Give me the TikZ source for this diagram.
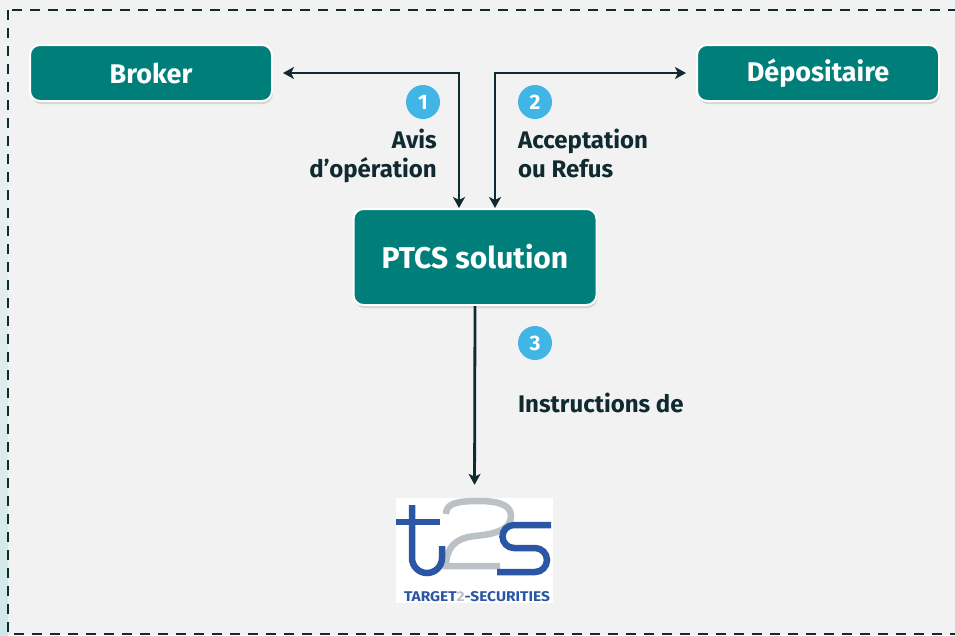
\documentclass[tikz,border=0pt]{standalone}
\usepackage{fontspec}
\setmainfont{Fira Sans}
\usepackage{tikz}
\usepackage{graphicx}
\usetikzlibrary{arrows.meta,shadows,positioning}
\definecolor{bg}{HTML}{F2F2F2}
\definecolor{tealbox}{HTML}{007F7A}
\definecolor{ink}{HTML}{0F2A30}
\definecolor{numblue}{HTML}{41B6E6}
\definecolor{t2sblue}{HTML}{2B55A5}
\definecolor{t2sgray}{HTML}{BCC1C6}
\begin{document}
\begin{tikzpicture}[x=1pt,y=-1pt]
\tikzstyle{box}=[rounded corners=10pt, fill=tealbox, draw=white, line width=2pt, text=white, font=\bfseries\fontsize{27}{27}\selectfont, drop shadow={opacity=0.25, shadow xshift=1pt, shadow yshift=-3pt}]
\tikzstyle{num}=[circle, fill=numblue, text=white, minimum size=34pt, inner sep=0pt, font=\bfseries\fontsize{21}{21}\selectfont]
\tikzstyle{lbl}=[text=ink, inner sep=0pt, font=\bfseries\fontsize{24}{29}\selectfont]
\tikzstyle{link}=[ink, line width=2.8pt, {Stealth[length=11pt,width=12pt,inset=3pt]}-{Stealth[length=11pt,width=12pt,inset=3pt]}]
\clip (0,0) rectangle (955,635);
\useasboundingbox (0,0) rectangle (955,635);
\fill[bg] (0,0) rectangle (955,635);
\shade[top color=bg, bottom color=teal!18] (0,0) rectangle (8,635);
\draw[ink, line width=2.2pt, dash pattern=on 10pt off 8pt] (8,10) rectangle (975,634);
% boxes
\node[box, minimum width=242pt, minimum height=56pt](broker) at (151,73) {Broker};
\node[box, minimum width=242pt, minimum height=56pt](depo) at (818,73) {Dépositaire};
\node[box, minimum width=243pt, minimum height=96pt, font=\bfseries\fontsize{30}{30}\selectfont](ptcs) at (475,257) {PTCS solution};
% steps
\node[num](n1) at (423,102) {1};
\node[num](n2) at (535,102) {2};
\node[num](n3) at (535,343) {3};
\node[lbl, align=right, anchor=north east](avis) at (437,129) {Avis\\d’opération};
\node[lbl, align=left, anchor=north west](acc) at (518,129) {Acceptation\\ou Refus};
\node[lbl, anchor=north west](instr) at (518,393) {Instructions de};
% t2s logo
\node[fill=white, minimum width=157pt, minimum height=105pt, inner sep=0pt](logo) at (474.5,550.5) {};
\draw[t2sgray, line width=6.5pt] (446,514) .. controls (446,503) and (458,501) .. (479,501) .. controls (503,501) and (511,507) .. (511,516) .. controls (511,530) and (495,534) .. (475,536) .. controls (455,538) and (446,548) .. (446,566) -- (500,566);
\draw[t2sblue, line width=6.5pt] (412,505) -- (412,558) arc(180:0:15) -- (442,546);
\draw[t2sblue, line width=6.5pt] (396,522) -- (440,522);
\draw[t2sblue, line width=6.5pt] (551,525) -- (514,525) arc(270:90:11.5) -- (535,548) arc(-90:90:12) -- (497,572);
\node[inner sep=0pt, text=t2sblue](t2stext) at (477,597) {\resizebox{146pt}{10pt}{\bfseries TARGET\textcolor{t2sgray}{2}-SECURITIES}};
% links
\draw[link, shorten <=10pt] (broker.east) -| ([xshift=-16pt]ptcs.north);
\draw[link, shorten <=10pt] (depo.west) -| ([xshift=20pt]ptcs.north);
\draw[ink, line width=2.8pt, -{Stealth[length=11pt,width=12pt,inset=3pt]}, shorten >=13pt] (ptcs.south) -- (logo.north);
\end{tikzpicture}
\end{document}
